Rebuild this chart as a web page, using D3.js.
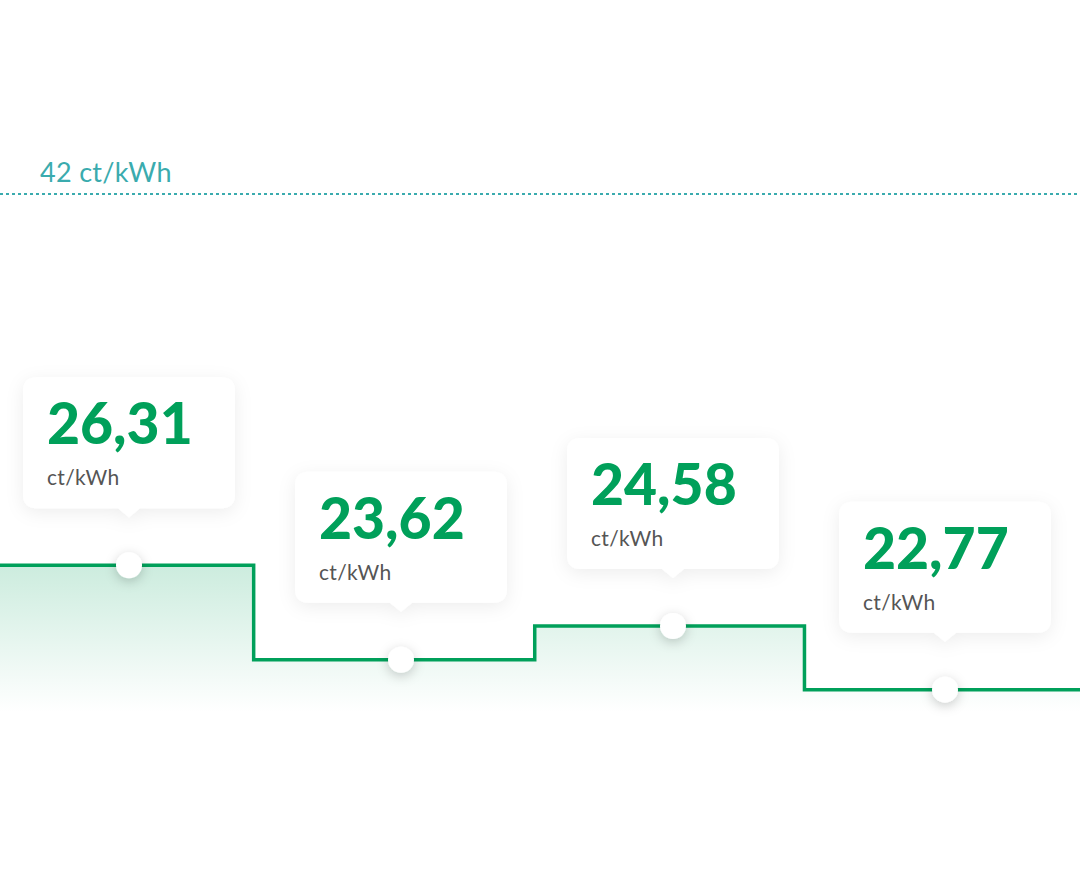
<!DOCTYPE html>
<html>
<head>
<meta charset="utf-8">
<script src="https://cdn.jsdelivr.net/npm/d3@7"></script>
<style>
  html, body { margin: 0; padding: 0; background: #fff; }
  svg { display: block; font-family: Lato, "Open Sans", sans-serif; }
</style>
</head>
<body>
<svg id="chart"></svg>
<script>
// prices per period (ct/kWh)
const prices = [26.31, 23.62, 24.58, 22.77];
const priceLabels = ["26,31", "23,62", "24,58", "22,77"];
// hour where each dot sits and where each step begins
const dotHours = [3, 9, 15, 21];
const stepStarts = [0, 5.75, 11.95, 17.9];
const dayEnd = 24;
const capValue = 42;
const capLabel = "42 ct/kWh";
const unit = "ct/kWh";

const width = 1080;
const height = 880;
const green = "#00a05a";
const teal = "#3aabae";

const svg = d3.select("#chart").attr("width", width).attr("height", height);
const defs = svg.append("defs");

const x = d3.scaleLinear().domain([0, dayEnd]).range([-7, 1081]);
const y = d3.scaleLinear().domain([20, 27, capValue]).range([787, 541, 194]);

// gradient under the steps
const grad = defs.append("linearGradient")
    .attr("id", "areaGrad")
    .attr("gradientUnits", "userSpaceOnUse")
    .attr("x1", 0).attr("x2", 0)
    .attr("y1", y(d3.max(prices))).attr("y2", 712);
grad.append("stop").attr("offset", 0).attr("stop-color", green).attr("stop-opacity", 0.2);
grad.append("stop").attr("offset", 1).attr("stop-color", green).attr("stop-opacity", 0);

const boxShadow = defs.append("filter").attr("id", "boxShadow")
    .attr("x", "-30%").attr("y", "-30%").attr("width", "160%").attr("height", "160%");
boxShadow.append("feDropShadow").attr("dx", 0).attr("dy", 4)
    .attr("stdDeviation", 9).attr("flood-color", "#000").attr("flood-opacity", 0.07);

const dotShadow = defs.append("filter").attr("id", "dotShadow")
    .attr("x", "-150%").attr("y", "-150%").attr("width", "400%").attr("height", "400%");
dotShadow.append("feDropShadow").attr("dx", 0).attr("dy", 3)
    .attr("stdDeviation", 6).attr("flood-color", "#000").attr("flood-opacity", 0.2);

// cap line
svg.append("line")
    .attr("x1", 0).attr("x2", width)
    .attr("y1", y(capValue)).attr("y2", y(capValue))
    .attr("stroke", teal).attr("stroke-width", 2)
    .attr("stroke-dasharray", "3,3");

svg.append("text")
    .attr("x", 40).attr("y", y(capValue) - 12)
    .attr("fill", teal).attr("font-size", 27)
    .attr("letter-spacing", 0.3)
    .text(capLabel);

// step series
let steps = prices.map((p, i) => ({h: stepStarts[i], v: p}));
steps.push({h: dayEnd, v: prices[prices.length - 1]});

const area = d3.area()
    .curve(d3.curveStepAfter)
    .x(d => x(d.h))
    .y0(740)
    .y1(d => y(d.v));

svg.append("path")
    .datum(steps)
    .attr("d", area)
    .attr("fill", "url(#areaGrad)");

const line = d3.line()
    .curve(d3.curveStepAfter)
    .x(d => x(d.h))
    .y(d => y(d.v));

svg.append("path")
    .datum(steps)
    .attr("d", line)
    .attr("fill", "none")
    .attr("stroke", green)
    .attr("stroke-width", 3.5);

// dots
svg.selectAll("circle.dot")
    .data(prices)
    .enter()
    .append("circle")
    .attr("class", "dot")
    .attr("cx", (d, i) => x(dotHours[i]))
    .attr("cy", d => y(d))
    .attr("r", 13)
    .attr("fill", "#fff")
    .attr("filter", "url(#dotShadow)");

// tooltips
const boxW = 212, boxH = 131, r = 14, tipW = 22, tipH = 9, gap = 57;

function bubble(cx, bottom) {
    const l = cx - boxW / 2, rt = cx + boxW / 2, t = bottom - boxH;
    return "M" + (l + r) + "," + t +
        "H" + (rt - r) + "Q" + rt + "," + t + " " + rt + "," + (t + r) +
        "V" + (bottom - r) + "Q" + rt + "," + bottom + " " + (rt - r) + "," + bottom +
        "H" + (cx + tipW / 2) + "L" + cx + "," + (bottom + tipH) + "L" + (cx - tipW / 2) + "," + bottom +
        "H" + (l + r) + "Q" + l + "," + bottom + " " + l + "," + (bottom - r) +
        "V" + (t + r) + "Q" + l + "," + t + " " + (l + r) + "," + t + "Z";
}

const tips = svg.selectAll("g.tip")
    .data(prices)
    .enter()
    .append("g")
    .attr("class", "tip");

tips.append("path")
    .attr("d", (d, i) => bubble(x(dotHours[i]), y(d) - gap))
    .attr("fill", "#fff")
    .attr("filter", "url(#boxShadow)");

tips.append("text")
    .attr("x", (d, i) => x(dotHours[i]) - boxW / 2 + 24)
    .attr("y", d => y(d) - gap - boxH + 67)
    .attr("fill", green)
    .attr("font-size", 57)
    .attr("font-weight", 900)
    .text((d, i) => priceLabels[i]);

tips.append("text")
    .attr("x", (d, i) => x(dotHours[i]) - boxW / 2 + 24)
    .attr("y", d => y(d) - gap - boxH + 108)
    .attr("fill", "#555")
    .attr("font-size", 21)
    .attr("letter-spacing", 0.3)
    .text(unit);
</script>
</body>
</html>
